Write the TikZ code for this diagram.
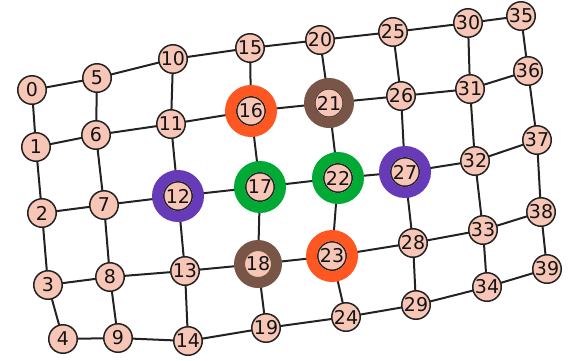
\documentclass[tikz,border=0pt]{standalone}
\usepackage{fontspec}
\setmainfont{DejaVu Sans}
\definecolor{nodefill}{HTML}{F8C6B6}
\definecolor{edgeclr}{HTML}{222222}
\definecolor{ringorange}{HTML}{FF5722}
\definecolor{ringbrown}{HTML}{795548}
\definecolor{ringgreen}{HTML}{00AA35}
\definecolor{ringpurple}{HTML}{673AB7}
\begin{document}
\begin{tikzpicture}[x=1pt,y=-1pt,
  vertex/.style={circle,draw=edgeclr,line width=1.5pt,fill=nodefill,
    minimum size=28.5pt,inner sep=0pt,font=\fontsize{19}{19}\selectfont,text=black!92},
  link/.style={draw=edgeclr,line width=2pt},
  ring/.style={line width=11pt,draw=#1}]
\useasboundingbox (0,0) rectangle (572,360);
% grid vertices
\foreach \n/\x/\y in {
  0/32/90, 1/36/147, 2/42/213, 3/48/285, 4/63/339,
  5/97/78, 6/96/135, 7/104/205, 8/110/277, 9/118/338,
  10/173/59, 11/171/124, 12/178/196, 13/185/271, 14/188/341,
  15/250/48, 16/251/111, 17/260/187, 18/258/264, 19/266/328,
  20/320/40, 21/329/103, 22/338/178, 23/332/256, 24/346/317,
  25/393/32, 26/401/96, 27/405/172, 28/413/243, 29/416/305,
  30/468/23, 31/470/89, 32/475/161, 33/483/230, 34/487/287,
  35/521/16, 36/528/71, 37/537/140, 38/541/212, 39/547/269}
  \coordinate (p\n) at (\x,\y);
% connectors: along rows and down columns
\foreach \c in {0,5,...,30}{
  \foreach \r in {0,...,4}{
    \pgfmathtruncatemacro{\nx}{\c+\r+5}
    \pgfmathtruncatemacro{\cur}{\c+\r}
    \draw[link] (p\cur) -- (p\nx);
  }}
\foreach \c in {0,5,...,35}{
  \foreach \r in {0,...,3}{
    \pgfmathtruncatemacro{\cur}{\c+\r}
    \pgfmathtruncatemacro{\dn}{\c+\r+1}
    \draw[link] (p\cur) -- (p\dn);
  }}
\foreach \n in {0,...,39}
  \node[vertex] (v\n) at (p\n) {\n};
% highlight rings
\draw[ring=ringorange] (v16.center) circle[radius=20.5pt];
\draw[ring=ringorange] (v23.center) circle[radius=20.5pt];
\draw[ring=ringbrown] (v21.center) circle[radius=19.5pt];
\draw[ring=ringbrown] (v18.center) circle[radius=18.5pt];
\draw[ring=ringgreen] (v17.center) circle[radius=20.5pt];
\draw[ring=ringgreen] (v22.center) circle[radius=20.5pt];
\draw[ring=ringpurple] (v12.center) circle[radius=20.5pt];
\draw[ring=ringpurple] (v27.center) circle[radius=20.5pt];
\end{tikzpicture}
\end{document}
